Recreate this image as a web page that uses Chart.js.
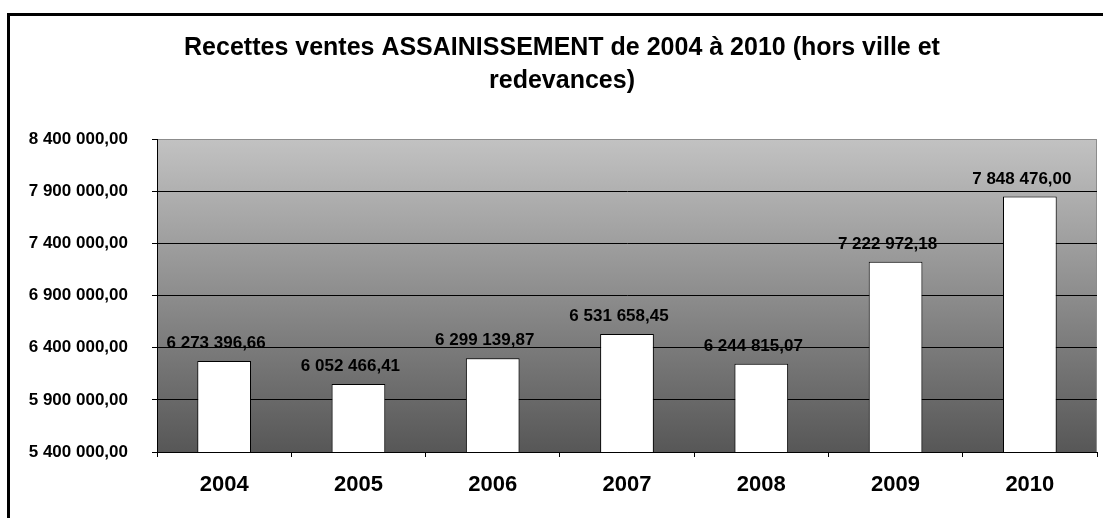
<!DOCTYPE html>
<html>
<head>
<meta charset="utf-8">
<script src="https://cdn.jsdelivr.net/npm/chart.js@4.4.1/dist/chart.umd.min.js"></script>
<style>
  html, body { margin: 0; padding: 0; background: #fff; overflow: hidden; }
  #wrap { position: relative; width: 1103px; height: 518px; }
  #frame { position: absolute; left: 7px; top: 13px; width: 1200px; height: 600px; border: 3px solid #000; pointer-events: none; }
  canvas { position: absolute; left: 0; top: 0; }
</style>
</head>
<body>
<div id="wrap">
  <canvas id="recettesChart" width="1103" height="518"></canvas>
  <div id="frame"></div>
</div>
<script>
const titleLines = ['Recettes ventes ASSAINISSEMENT de 2004 à 2010 (hors ville et', 'redevances)'];
const years = ['2004', '2005', '2006', '2007', '2008', '2009', '2010'];
const recettes = [6273396.66, 6052466.41, 6299139.87, 6531658.45, 6244815.07, 7222972.18, 7848476.00];
const yMin = 5400000;
const yMax = 8400000;
const yStep = 500000;

const FONT = '"Liberation Sans", Arial, sans-serif';

//French style number: 6 273 396,66
function fmt(v) {
  const parts = Number(v).toFixed(2).split('.');
  return parts[0].replace(/\B(?=(\d{3})+(?!\d))/g, ' ') + ',' + parts[1];
}

//Gray gradient behind the plot area + gray frame
const plotBackground = {
  id: 'plotBackground',
  beforeDraw(chart) {
    const { ctx, chartArea: a } = chart;
    const g = ctx.createLinearGradient(0, a.top, 0, a.bottom);
    g.addColorStop(0, '#c2c2c2');
    g.addColorStop(1, '#575757');
    ctx.save();
    ctx.fillStyle = g;
    ctx.fillRect(a.left, a.top, a.right - a.left, a.bottom - a.top);
    ctx.strokeStyle = '#8c8c8c';
    ctx.lineWidth = 1;
    ctx.strokeRect(a.left + 0.5, a.top + 0.5, a.right - a.left - 1, a.bottom - a.top);
    ctx.restore();
  }
};

//Value labels above bars
const barLabels = {
  id: 'barLabels',
  afterDatasetsDraw(chart) {
    const { ctx } = chart;
    const meta = chart.getDatasetMeta(0);
    ctx.save();
    ctx.font = 'bold 17px ' + FONT;
    ctx.fillStyle = '#000';
    ctx.textAlign = 'center';
    ctx.textBaseline = 'alphabetic';
    meta.data.forEach((bar, i) => {
      ctx.fillText(fmt(recettes[i]), bar.x - 8, bar.y - 13);
    });
    ctx.restore();
  }
};

document.addEventListener('DOMContentLoaded', function () {
  const ctx = document.getElementById('recettesChart');
  new Chart(ctx, {
    type: 'bar',
    data: {
      labels: years,
      datasets: [{
        data: recettes,
        backgroundColor: '#ffffff',
        borderColor: '#000000',
        borderWidth: 1,
        categoryPercentage: 1,
        barPercentage: 0.4,
      }]
    },
    options: {
      responsive: false,
      animation: false,
      layout: {
        padding: { left: 27, right: 6, top: 0, bottom: 0 }
      },
      plugins: {
        legend: { display: false },
        tooltip: { enabled: false },
        title: {
          display: true,
          text: titleLines,
          color: '#000',
          font: { family: FONT, size: 25, weight: 'bold', lineHeight: 1.32 },
          padding: { top: 32, bottom: 41 },
        }
      },
      scales: {
        x: {
          grid: {
            drawOnChartArea: false,
            drawTicks: true,
            tickLength: 5,
            tickColor: '#000',
          },
          border: { display: true, color: '#000', width: 1 },
          ticks: {
            color: '#000',
            font: { family: FONT, size: 22, weight: 'bold' },
            padding: 15,
          },
          afterFit(scale) { scale.height = 66; }
        },
        y: {
          min: yMin,
          max: yMax,
          grid: {
            color: (c) => (c.tick && c.tick.value === yMax ? '#8c8c8c' : '#000'),
            tickColor: '#000',
            tickLength: 5,
            lineWidth: 1,
          },
          border: { display: true, color: '#000', width: 1 },
          ticks: {
            stepSize: yStep,
            color: '#000',
            font: { family: FONT, size: 17, weight: 'bold' },
            padding: 24,
            callback: (v) => fmt(v),
          },
          afterFit(scale) { scale.width = 130; }
        }
      }
    },
    plugins: [plotBackground, barLabels]
  });
});
</script>
</body>
</html>
